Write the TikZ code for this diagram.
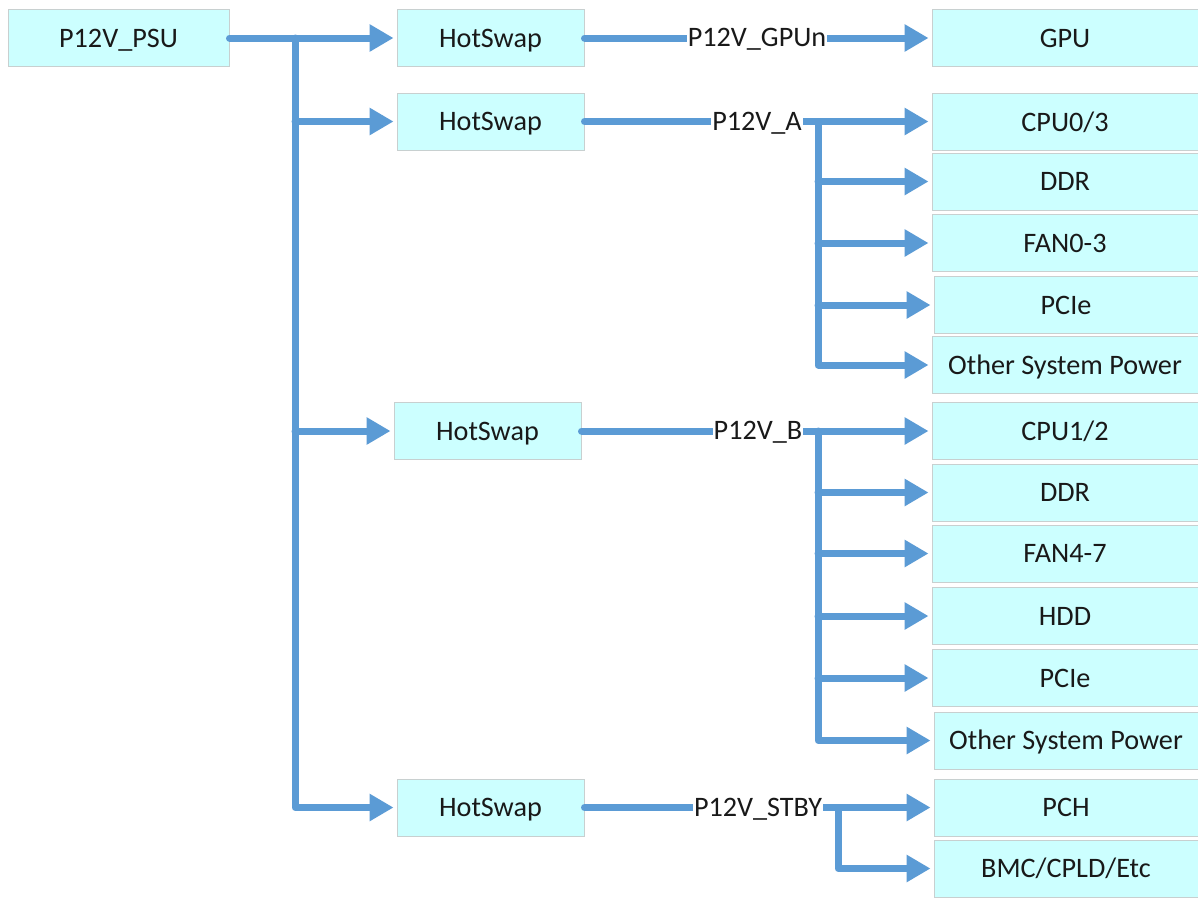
\documentclass[tikz,border=0pt]{standalone}
\usepackage{fontspec}
\setmainfont{Carlito}
\usetikzlibrary{arrows.meta}
\definecolor{wirec}{RGB}{91,155,213}
\definecolor{boxfill}{RGB}{204,255,255}
\definecolor{boxline}{RGB}{200,208,208}
\begin{document}
\begin{tikzpicture}[x=1pt,y=-1pt,
  box/.style={draw=boxline, line width=1pt, fill=boxfill, minimum height=57pt, inner sep=0pt,
    text height=18pt, text depth=0pt,
    font=\fontsize{28.2}{33}\selectfont, text=black!90},
  lbox/.style={box, minimum width=221pt},
  hbox/.style={box, minimum width=187pt},
  rbox/.style={box, minimum width=266pt},
  wire/.style={draw=wirec, line width=7pt, line cap=round, line join=round},
  feed/.style={wire, -{Triangle[length=24pt,width=26pt]}, shorten >=3pt},
  lbl/.style={fill=white, inner sep=1pt, text height=18pt, text depth=1pt,
    font=\fontsize{28.2}{33}\selectfont, text=black!90}]
\useasboundingbox (0,0) rectangle (1198,898);
\fill[white] (0,0) rectangle (1198,898);

% left / middle boxes
\node[lbox] (psu) at (118.5,38) {P12V\_PSU};
\node[hbox] (hs1) at (490.5,38) {HotSwap};
\node[hbox] (hs2) at (490.5,121.5) {HotSwap};
\node[hbox] (hs3) at (487.5,431) {HotSwap};
\node[hbox] (hs4) at (490.5,807.5) {HotSwap};

% right boxes
\node[rbox] (gpu) at (1065,38) {GPU};
\node[rbox] (cpua) at (1065,122) {CPU0/3};
\node[rbox] (ddra) at (1065,181.5) {DDR};
\node[rbox] (fana) at (1065,243) {FAN0-3};
\node[rbox, minimum width=264pt] (pciea) at (1066,305) {PCIe};
\node[rbox] (otha) at (1065,365) {Other System Power};
\node[rbox] (cpub) at (1065,431) {CPU1/2};
\node[rbox] (ddrb) at (1065,492.5) {DDR};
\node[rbox] (fanb) at (1065,553.5) {FAN4-7};
\node[rbox] (hdd) at (1065,616) {HDD};
\node[rbox] (pcieb) at (1065,678) {PCIe};
\node[rbox, minimum width=264pt] (othb) at (1066,740.5) {Other System Power};
\node[rbox, minimum width=264pt] (pch) at (1066,807.5) {PCH};
\node[rbox, minimum width=264pt] (bmc) at (1066,868.5) {BMC/CPLD/Etc};

% PSU trunk
\coordinate (tr) at (295,38);
\draw[feed] (psu.east) -- (hs1.west);
\draw[feed] (tr) |- (hs4.west);
\draw[feed] (tr |- hs2.west) -- (hs2.west);
\draw[feed] (tr |- hs3.west) -- (hs3.west);

% GPU rail
\draw[feed] (hs1.east) -- (gpu.west);
\node[lbl] (lg) at (757,38) {P12V\_GPUn};

% rail A
\draw[feed] (hs2.east) -- (hs2.east -| cpua.west);
\coordinate (ba) at (818,121.5);
\draw[feed] (ba) |- (otha.west);
\draw[feed] (ba |- ddra.west) -- (ddra.west);
\draw[feed] (ba |- fana.west) -- (fana.west);
\draw[feed] (ba |- pciea.west) -- (pciea.west);
\node[lbl] (la) at (757,121.5) {P12V\_A};

% rail B
\draw[feed] (hs3.east) -- (hs3.east -| cpub.west);
\coordinate (bb) at (818,431);
\draw[feed] (bb) |- (othb.west);
\draw[feed] (bb |- ddrb.west) -- (ddrb.west);
\draw[feed] (bb |- fanb.west) -- (fanb.west);
\draw[feed] (bb |- hdd.west) -- (hdd.west);
\draw[feed] (bb |- pcieb.west) -- (pcieb.west);
\node[lbl] (lb) at (758,431) {P12V\_B};

% rail STBY
\draw[feed] (hs4.east) -- (pch.west);
\coordinate (bs) at (838,807.5);
\draw[feed] (bs) |- (bmc.west);
\node[lbl] (ls) at (758,807.5) {P12V\_STBY};
\end{tikzpicture}
\end{document}
